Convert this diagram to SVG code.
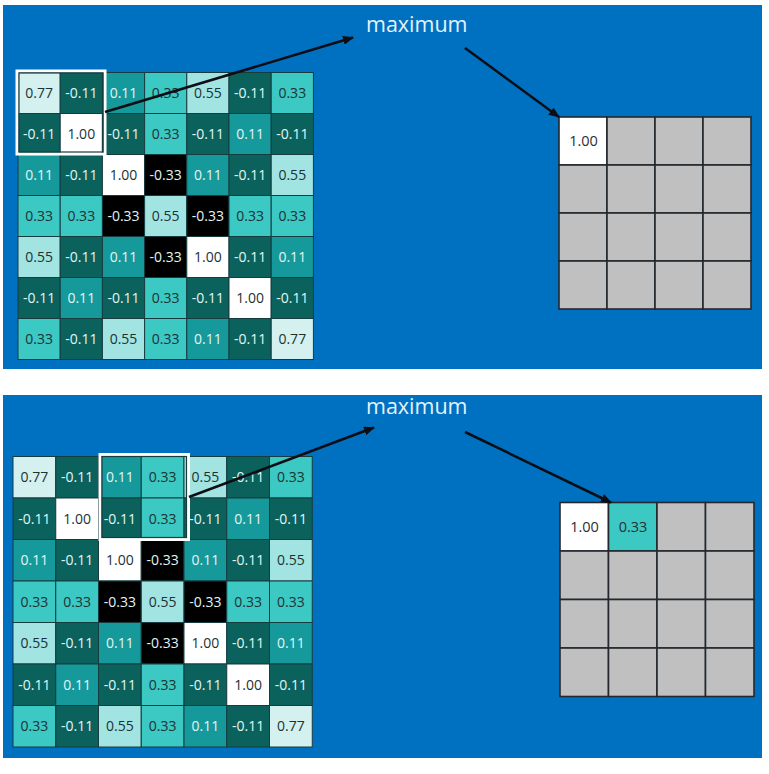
<svg xmlns="http://www.w3.org/2000/svg" width="769" height="774" viewBox="0 0 769 774">
<style>
.bg{fill:#0070c0}
.c{stroke:#173c40;stroke-width:1}
.v77{fill:#d4f1ef}.p55{fill:#a1e4e1}.p33{fill:#3cc8c3}.p11{fill:#16999a}.n11{fill:#0b625d}.n33{fill:#000}.p100{fill:#fff}
text{font-family:"Open Sans","DejaVu Sans",sans-serif;text-anchor:middle}
.dk{fill:#1c3234;font-size:14px}
.lt{fill:#e2f5f5;font-size:14px}
.o{fill:#c0c0c0;stroke:#24282e;stroke-width:1.6}
.ow{fill:#fff;stroke:#24282e;stroke-width:1.6}
.oc{fill:#3cc8c3;stroke:#24282e;stroke-width:1.6}
.ot{fill:#2a2f33;font-size:14.5px}
.max{fill:#e4f3fa;font-size:21.5px;text-anchor:start}
.fo{fill:none;stroke:#fff;stroke-width:3}
.fi{fill:none;stroke:#173c40;stroke-width:1.2}
.ar{stroke:#0d0d14;stroke-width:2.5;fill:none}
</style>
<defs>
<marker id="ah" markerUnits="userSpaceOnUse" markerWidth="11" markerHeight="9" refX="10" refY="4.5" orient="auto">
<path d="M0,0 L11,4.5 L0,9 z" fill="#0d0d14"/>
</marker>
</defs>
<rect x="0" y="0" width="769" height="774" fill="#fff"/>
<rect class="bg" x="3" y="5" width="759" height="364"/>
<rect class="bg" x="3" y="395" width="759" height="363"/>

<!-- TOP input grid -->
<g id="top-input" transform="translate(18,72.5)">
<g id="t-r0c0"><rect class="c v77" x="0" y="0" width="42.2" height="41"/><text class="dk" x="21.1" y="25.5">0.77</text></g>
<g id="t-r0c1"><rect class="c n11" x="42.2" y="0" width="42.2" height="41"/><text class="lt" x="63.3" y="25.5">-0.11</text></g>
<g id="t-r0c2"><rect class="c p11" x="84.4" y="0" width="42.2" height="41"/><text class="lt" x="105.5" y="25.5">0.11</text></g>
<g id="t-r0c3"><rect class="c p33" x="126.6" y="0" width="42.2" height="41"/><text class="dk" x="147.7" y="25.5">0.33</text></g>
<g id="t-r0c4"><rect class="c p55" x="168.8" y="0" width="42.2" height="41"/><text class="dk" x="189.9" y="25.5">0.55</text></g>
<g id="t-r0c5"><rect class="c n11" x="211" y="0" width="42.2" height="41"/><text class="lt" x="232.1" y="25.5">-0.11</text></g>
<g id="t-r0c6"><rect class="c p33" x="253.2" y="0" width="42.2" height="41"/><text class="dk" x="274.3" y="25.5">0.33</text></g>

<g id="t-r1c0"><rect class="c n11" x="0" y="41" width="42.2" height="41"/><text class="lt" x="21.1" y="66.5">-0.11</text></g>
<g id="t-r1c1"><rect class="c p100" x="42.2" y="41" width="42.2" height="41"/><text class="dk" x="63.3" y="66.5">1.00</text></g>
<g id="t-r1c2"><rect class="c n11" x="84.4" y="41" width="42.2" height="41"/><text class="lt" x="105.5" y="66.5">-0.11</text></g>
<g id="t-r1c3"><rect class="c p33" x="126.6" y="41" width="42.2" height="41"/><text class="dk" x="147.7" y="66.5">0.33</text></g>
<g id="t-r1c4"><rect class="c n11" x="168.8" y="41" width="42.2" height="41"/><text class="lt" x="189.9" y="66.5">-0.11</text></g>
<g id="t-r1c5"><rect class="c p11" x="211" y="41" width="42.2" height="41"/><text class="lt" x="232.1" y="66.5">0.11</text></g>
<g id="t-r1c6"><rect class="c n11" x="253.2" y="41" width="42.2" height="41"/><text class="lt" x="274.3" y="66.5">-0.11</text></g>

<g id="t-r2c0"><rect class="c p11" x="0" y="82" width="42.2" height="41"/><text class="lt" x="21.1" y="107.5">0.11</text></g>
<g id="t-r2c1"><rect class="c n11" x="42.2" y="82" width="42.2" height="41"/><text class="lt" x="63.3" y="107.5">-0.11</text></g>
<g id="t-r2c2"><rect class="c p100" x="84.4" y="82" width="42.2" height="41"/><text class="dk" x="105.5" y="107.5">1.00</text></g>
<g id="t-r2c3"><rect class="c n33" x="126.6" y="82" width="42.2" height="41"/><text class="lt" x="147.7" y="107.5">-0.33</text></g>
<g id="t-r2c4"><rect class="c p11" x="168.8" y="82" width="42.2" height="41"/><text class="lt" x="189.9" y="107.5">0.11</text></g>
<g id="t-r2c5"><rect class="c n11" x="211" y="82" width="42.2" height="41"/><text class="lt" x="232.1" y="107.5">-0.11</text></g>
<g id="t-r2c6"><rect class="c p55" x="253.2" y="82" width="42.2" height="41"/><text class="dk" x="274.3" y="107.5">0.55</text></g>

<g id="t-r3c0"><rect class="c p33" x="0" y="123" width="42.2" height="41"/><text class="dk" x="21.1" y="148.5">0.33</text></g>
<g id="t-r3c1"><rect class="c p33" x="42.2" y="123" width="42.2" height="41"/><text class="dk" x="63.3" y="148.5">0.33</text></g>
<g id="t-r3c2"><rect class="c n33" x="84.4" y="123" width="42.2" height="41"/><text class="lt" x="105.5" y="148.5">-0.33</text></g>
<g id="t-r3c3"><rect class="c p55" x="126.6" y="123" width="42.2" height="41"/><text class="dk" x="147.7" y="148.5">0.55</text></g>
<g id="t-r3c4"><rect class="c n33" x="168.8" y="123" width="42.2" height="41"/><text class="lt" x="189.9" y="148.5">-0.33</text></g>
<g id="t-r3c5"><rect class="c p33" x="211" y="123" width="42.2" height="41"/><text class="dk" x="232.1" y="148.5">0.33</text></g>
<g id="t-r3c6"><rect class="c p33" x="253.2" y="123" width="42.2" height="41"/><text class="dk" x="274.3" y="148.5">0.33</text></g>

<g id="t-r4c0"><rect class="c p55" x="0" y="164" width="42.2" height="41"/><text class="dk" x="21.1" y="189.5">0.55</text></g>
<g id="t-r4c1"><rect class="c n11" x="42.2" y="164" width="42.2" height="41"/><text class="lt" x="63.3" y="189.5">-0.11</text></g>
<g id="t-r4c2"><rect class="c p11" x="84.4" y="164" width="42.2" height="41"/><text class="lt" x="105.5" y="189.5">0.11</text></g>
<g id="t-r4c3"><rect class="c n33" x="126.6" y="164" width="42.2" height="41"/><text class="lt" x="147.7" y="189.5">-0.33</text></g>
<g id="t-r4c4"><rect class="c p100" x="168.8" y="164" width="42.2" height="41"/><text class="dk" x="189.9" y="189.5">1.00</text></g>
<g id="t-r4c5"><rect class="c n11" x="211" y="164" width="42.2" height="41"/><text class="lt" x="232.1" y="189.5">-0.11</text></g>
<g id="t-r4c6"><rect class="c p11" x="253.2" y="164" width="42.2" height="41"/><text class="lt" x="274.3" y="189.5">0.11</text></g>

<g id="t-r5c0"><rect class="c n11" x="0" y="205" width="42.2" height="41"/><text class="lt" x="21.1" y="230.5">-0.11</text></g>
<g id="t-r5c1"><rect class="c p11" x="42.2" y="205" width="42.2" height="41"/><text class="lt" x="63.3" y="230.5">0.11</text></g>
<g id="t-r5c2"><rect class="c n11" x="84.4" y="205" width="42.2" height="41"/><text class="lt" x="105.5" y="230.5">-0.11</text></g>
<g id="t-r5c3"><rect class="c p33" x="126.6" y="205" width="42.2" height="41"/><text class="dk" x="147.7" y="230.5">0.33</text></g>
<g id="t-r5c4"><rect class="c n11" x="168.8" y="205" width="42.2" height="41"/><text class="lt" x="189.9" y="230.5">-0.11</text></g>
<g id="t-r5c5"><rect class="c p100" x="211" y="205" width="42.2" height="41"/><text class="dk" x="232.1" y="230.5">1.00</text></g>
<g id="t-r5c6"><rect class="c n11" x="253.2" y="205" width="42.2" height="41"/><text class="lt" x="274.3" y="230.5">-0.11</text></g>

<g id="t-r6c0"><rect class="c p33" x="0" y="246" width="42.2" height="41"/><text class="dk" x="21.1" y="271.5">0.33</text></g>
<g id="t-r6c1"><rect class="c n11" x="42.2" y="246" width="42.2" height="41"/><text class="lt" x="63.3" y="271.5">-0.11</text></g>
<g id="t-r6c2"><rect class="c p55" x="84.4" y="246" width="42.2" height="41"/><text class="dk" x="105.5" y="271.5">0.55</text></g>
<g id="t-r6c3"><rect class="c p33" x="126.6" y="246" width="42.2" height="41"/><text class="dk" x="147.7" y="271.5">0.33</text></g>
<g id="t-r6c4"><rect class="c p11" x="168.8" y="246" width="42.2" height="41"/><text class="lt" x="189.9" y="271.5">0.11</text></g>
<g id="t-r6c5"><rect class="c n11" x="211" y="246" width="42.2" height="41"/><text class="lt" x="232.1" y="271.5">-0.11</text></g>
<g id="t-r6c6"><rect class="c v77" x="253.2" y="246" width="42.2" height="41"/><text class="dk" x="274.3" y="271.5">0.77</text></g>
</g>
<g id="top-window">
<rect class="fo" x="17" y="71" width="88" height="83"/>
<rect class="fi" x="19" y="73" width="84" height="79"/>
</g>
<g id="top-label"><text class="max" x="366" y="32">maximum</text></g>

<!-- TOP output grid -->
<g id="top-output">
<g id="to-r0c0"><rect class="ow" x="559" y="117" width="48" height="48"/><text class="ot" x="583.5" y="146">1.00</text></g>
<rect class="o" x="607" y="117" width="48" height="48"/><rect class="o" x="655" y="117" width="48" height="48"/><rect class="o" x="703" y="117" width="48" height="48"/>
<rect class="o" x="559" y="165" width="48" height="48"/><rect class="o" x="607" y="165" width="48" height="48"/><rect class="o" x="655" y="165" width="48" height="48"/><rect class="o" x="703" y="165" width="48" height="48"/>
<rect class="o" x="559" y="213" width="48" height="48"/><rect class="o" x="607" y="213" width="48" height="48"/><rect class="o" x="655" y="213" width="48" height="48"/><rect class="o" x="703" y="213" width="48" height="48"/>
<rect class="o" x="559" y="261" width="48" height="48"/><rect class="o" x="607" y="261" width="48" height="48"/><rect class="o" x="655" y="261" width="48" height="48"/><rect class="o" x="703" y="261" width="48" height="48"/>
</g>

<!-- BOTTOM input grid -->
<g id="bottom-input" transform="translate(13,456.5)">
<g id="b-r0c0"><rect class="c v77" x="0" y="0" width="42.75" height="41.5"/><text class="dk" x="21.4" y="25.8">0.77</text></g>
<g id="b-r0c1"><rect class="c n11" x="42.75" y="0" width="42.75" height="41.5"/><text class="lt" x="64.1" y="25.8">-0.11</text></g>
<g id="b-r0c2"><rect class="c p11" x="85.5" y="0" width="42.75" height="41.5"/><text class="lt" x="106.9" y="25.8">0.11</text></g>
<g id="b-r0c3"><rect class="c p33" x="128.25" y="0" width="42.75" height="41.5"/><text class="dk" x="149.6" y="25.8">0.33</text></g>
<g id="b-r0c4"><rect class="c p55" x="171" y="0" width="42.75" height="41.5"/><text class="dk" x="192.4" y="25.8">0.55</text></g>
<g id="b-r0c5"><rect class="c n11" x="213.75" y="0" width="42.75" height="41.5"/><text class="lt" x="235.1" y="25.8">-0.11</text></g>
<g id="b-r0c6"><rect class="c p33" x="256.5" y="0" width="42.75" height="41.5"/><text class="dk" x="277.9" y="25.8">0.33</text></g>

<g id="b-r1c0"><rect class="c n11" x="0" y="41.5" width="42.75" height="41.5"/><text class="lt" x="21.4" y="67.3">-0.11</text></g>
<g id="b-r1c1"><rect class="c p100" x="42.75" y="41.5" width="42.75" height="41.5"/><text class="dk" x="64.1" y="67.3">1.00</text></g>
<g id="b-r1c2"><rect class="c n11" x="85.5" y="41.5" width="42.75" height="41.5"/><text class="lt" x="106.9" y="67.3">-0.11</text></g>
<g id="b-r1c3"><rect class="c p33" x="128.25" y="41.5" width="42.75" height="41.5"/><text class="dk" x="149.6" y="67.3">0.33</text></g>
<g id="b-r1c4"><rect class="c n11" x="171" y="41.5" width="42.75" height="41.5"/><text class="lt" x="192.4" y="67.3">-0.11</text></g>
<g id="b-r1c5"><rect class="c p11" x="213.75" y="41.5" width="42.75" height="41.5"/><text class="lt" x="235.1" y="67.3">0.11</text></g>
<g id="b-r1c6"><rect class="c n11" x="256.5" y="41.5" width="42.75" height="41.5"/><text class="lt" x="277.9" y="67.3">-0.11</text></g>

<g id="b-r2c0"><rect class="c p11" x="0" y="83" width="42.75" height="41.5"/><text class="lt" x="21.4" y="108.8">0.11</text></g>
<g id="b-r2c1"><rect class="c n11" x="42.75" y="83" width="42.75" height="41.5"/><text class="lt" x="64.1" y="108.8">-0.11</text></g>
<g id="b-r2c2"><rect class="c p100" x="85.5" y="83" width="42.75" height="41.5"/><text class="dk" x="106.9" y="108.8">1.00</text></g>
<g id="b-r2c3"><rect class="c n33" x="128.25" y="83" width="42.75" height="41.5"/><text class="lt" x="149.6" y="108.8">-0.33</text></g>
<g id="b-r2c4"><rect class="c p11" x="171" y="83" width="42.75" height="41.5"/><text class="lt" x="192.4" y="108.8">0.11</text></g>
<g id="b-r2c5"><rect class="c n11" x="213.75" y="83" width="42.75" height="41.5"/><text class="lt" x="235.1" y="108.8">-0.11</text></g>
<g id="b-r2c6"><rect class="c p55" x="256.5" y="83" width="42.75" height="41.5"/><text class="dk" x="277.9" y="108.8">0.55</text></g>

<g id="b-r3c0"><rect class="c p33" x="0" y="124.5" width="42.75" height="41.5"/><text class="dk" x="21.4" y="150.3">0.33</text></g>
<g id="b-r3c1"><rect class="c p33" x="42.75" y="124.5" width="42.75" height="41.5"/><text class="dk" x="64.1" y="150.3">0.33</text></g>
<g id="b-r3c2"><rect class="c n33" x="85.5" y="124.5" width="42.75" height="41.5"/><text class="lt" x="106.9" y="150.3">-0.33</text></g>
<g id="b-r3c3"><rect class="c p55" x="128.25" y="124.5" width="42.75" height="41.5"/><text class="dk" x="149.6" y="150.3">0.55</text></g>
<g id="b-r3c4"><rect class="c n33" x="171" y="124.5" width="42.75" height="41.5"/><text class="lt" x="192.4" y="150.3">-0.33</text></g>
<g id="b-r3c5"><rect class="c p33" x="213.75" y="124.5" width="42.75" height="41.5"/><text class="dk" x="235.1" y="150.3">0.33</text></g>
<g id="b-r3c6"><rect class="c p33" x="256.5" y="124.5" width="42.75" height="41.5"/><text class="dk" x="277.9" y="150.3">0.33</text></g>

<g id="b-r4c0"><rect class="c p55" x="0" y="166" width="42.75" height="41.5"/><text class="dk" x="21.4" y="191.8">0.55</text></g>
<g id="b-r4c1"><rect class="c n11" x="42.75" y="166" width="42.75" height="41.5"/><text class="lt" x="64.1" y="191.8">-0.11</text></g>
<g id="b-r4c2"><rect class="c p11" x="85.5" y="166" width="42.75" height="41.5"/><text class="lt" x="106.9" y="191.8">0.11</text></g>
<g id="b-r4c3"><rect class="c n33" x="128.25" y="166" width="42.75" height="41.5"/><text class="lt" x="149.6" y="191.8">-0.33</text></g>
<g id="b-r4c4"><rect class="c p100" x="171" y="166" width="42.75" height="41.5"/><text class="dk" x="192.4" y="191.8">1.00</text></g>
<g id="b-r4c5"><rect class="c n11" x="213.75" y="166" width="42.75" height="41.5"/><text class="lt" x="235.1" y="191.8">-0.11</text></g>
<g id="b-r4c6"><rect class="c p11" x="256.5" y="166" width="42.75" height="41.5"/><text class="lt" x="277.9" y="191.8">0.11</text></g>

<g id="b-r5c0"><rect class="c n11" x="0" y="207.5" width="42.75" height="41.5"/><text class="lt" x="21.4" y="233.3">-0.11</text></g>
<g id="b-r5c1"><rect class="c p11" x="42.75" y="207.5" width="42.75" height="41.5"/><text class="lt" x="64.1" y="233.3">0.11</text></g>
<g id="b-r5c2"><rect class="c n11" x="85.5" y="207.5" width="42.75" height="41.5"/><text class="lt" x="106.9" y="233.3">-0.11</text></g>
<g id="b-r5c3"><rect class="c p33" x="128.25" y="207.5" width="42.75" height="41.5"/><text class="dk" x="149.6" y="233.3">0.33</text></g>
<g id="b-r5c4"><rect class="c n11" x="171" y="207.5" width="42.75" height="41.5"/><text class="lt" x="192.4" y="233.3">-0.11</text></g>
<g id="b-r5c5"><rect class="c p100" x="213.75" y="207.5" width="42.75" height="41.5"/><text class="dk" x="235.1" y="233.3">1.00</text></g>
<g id="b-r5c6"><rect class="c n11" x="256.5" y="207.5" width="42.75" height="41.5"/><text class="lt" x="277.9" y="233.3">-0.11</text></g>

<g id="b-r6c0"><rect class="c p33" x="0" y="249" width="42.75" height="41.5"/><text class="dk" x="21.4" y="274.8">0.33</text></g>
<g id="b-r6c1"><rect class="c n11" x="42.75" y="249" width="42.75" height="41.5"/><text class="lt" x="64.1" y="274.8">-0.11</text></g>
<g id="b-r6c2"><rect class="c p55" x="85.5" y="249" width="42.75" height="41.5"/><text class="dk" x="106.9" y="274.8">0.55</text></g>
<g id="b-r6c3"><rect class="c p33" x="128.25" y="249" width="42.75" height="41.5"/><text class="dk" x="149.6" y="274.8">0.33</text></g>
<g id="b-r6c4"><rect class="c p11" x="171" y="249" width="42.75" height="41.5"/><text class="lt" x="192.4" y="274.8">0.11</text></g>
<g id="b-r6c5"><rect class="c n11" x="213.75" y="249" width="42.75" height="41.5"/><text class="lt" x="235.1" y="274.8">-0.11</text></g>
<g id="b-r6c6"><rect class="c v77" x="256.5" y="249" width="42.75" height="41.5"/><text class="dk" x="277.9" y="274.8">0.77</text></g>
</g>
<g id="bottom-window">
<rect class="fo" x="100" y="454.5" width="88.5" height="85"/>
<rect class="fi" x="102" y="456.5" width="84.5" height="81"/>
</g>
<g id="bottom-label"><text class="max" x="366" y="414">maximum</text></g>

<!-- BOTTOM output grid -->
<g id="bottom-output">
<g id="bo-r0c0"><rect class="ow" x="560" y="502.5" width="48.5" height="48.5"/><text class="ot" x="584.5" y="532">1.00</text></g>
<g id="bo-r0c1"><rect class="oc" x="608.5" y="502.5" width="48.5" height="48.5"/><text class="ot" x="633" y="532">0.33</text></g>
<rect class="o" x="657" y="502.5" width="48.5" height="48.5"/><rect class="o" x="705.5" y="502.5" width="48.5" height="48.5"/>
<rect class="o" x="560" y="551" width="48.5" height="48.5"/><rect class="o" x="608.5" y="551" width="48.5" height="48.5"/><rect class="o" x="657" y="551" width="48.5" height="48.5"/><rect class="o" x="705.5" y="551" width="48.5" height="48.5"/>
<rect class="o" x="560" y="599.5" width="48.5" height="48.5"/><rect class="o" x="608.5" y="599.5" width="48.5" height="48.5"/><rect class="o" x="657" y="599.5" width="48.5" height="48.5"/><rect class="o" x="705.5" y="599.5" width="48.5" height="48.5"/>
<rect class="o" x="560" y="648" width="48.5" height="48.5"/><rect class="o" x="608.5" y="648" width="48.5" height="48.5"/><rect class="o" x="657" y="648" width="48.5" height="48.5"/><rect class="o" x="705.5" y="648" width="48.5" height="48.5"/>
</g>

<g id="connectors">
<line class="ar" x1="105" y1="112" x2="353" y2="37.5" marker-end="url(#ah)"/>
<line class="ar" x1="465" y1="48" x2="559" y2="117" marker-end="url(#ah)"/>
<line class="ar" x1="189" y1="497" x2="374" y2="427.5" marker-end="url(#ah)"/>
<line class="ar" x1="465" y1="432" x2="611" y2="502.5" marker-end="url(#ah)"/>
</g>
</svg>
